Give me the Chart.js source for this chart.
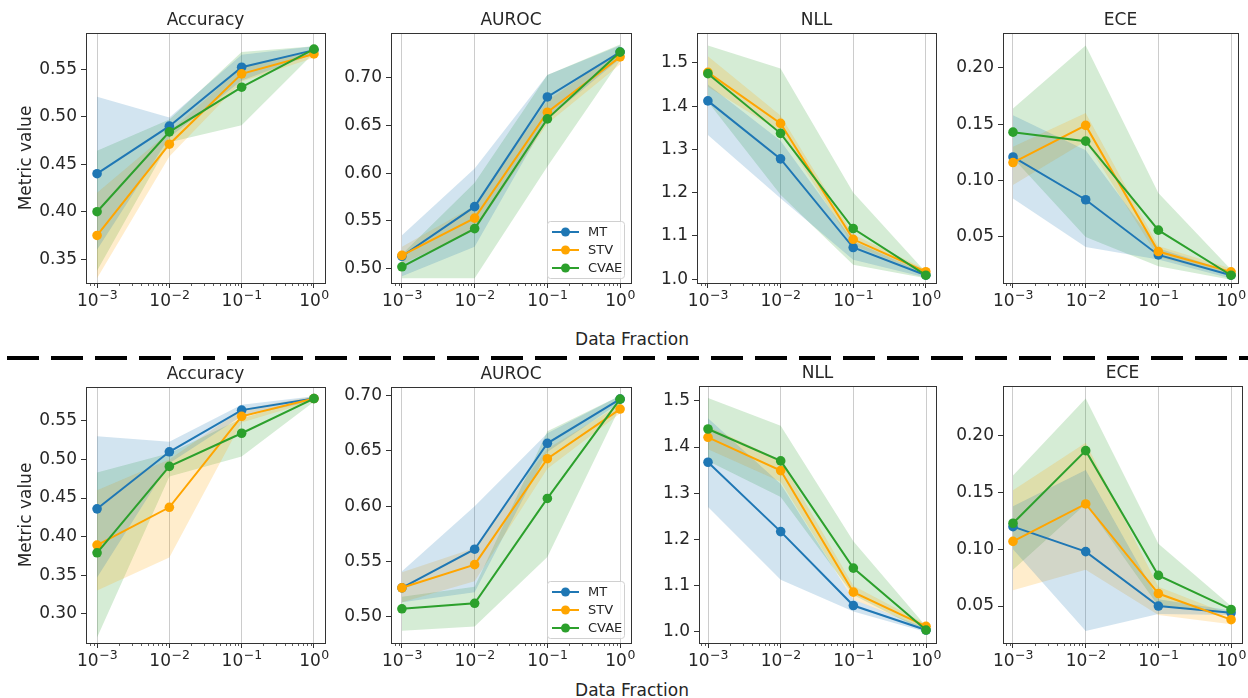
<!DOCTYPE html>
<html>
<head>
<meta charset="utf-8">
<script src="https://cdn.jsdelivr.net/npm/chart.js@4.4.0/dist/chart.umd.min.js"></script>
<style>
  body { margin: 0; background: #fff; width: 1248px; height: 698px; position: relative; overflow: hidden; font-family: "DejaVu Sans", sans-serif; }
  canvas { position: absolute; }
  .xlabel { position: absolute; transform: translateX(-50%); font-size: 17px; line-height: 20px; color: #262626; white-space: nowrap; }
  .sep { position: absolute; left: 7px; top: 356px; width: 1241px; height: 4px;
         background: repeating-linear-gradient(to right, #000 0 32px, transparent 32px 44px); }
</style>
</head>
<body>
<div class="xlabel" style="left:632px; top:329px;">Data Fraction</div>
<div class="sep"></div>
<div class="xlabel" style="left:632px; top:680px;">Data Fraction</div>
<script>
// x positions (data fraction) and their labels: base 10 with exponent
const fractions = [0.001, 0.01, 0.1, 1];
const xTickBase = '10';
const xTickExponents = ['−3', '−2', '−1', '0'];
const methods = ['MT', 'STV', 'CVAE'];
const methodColors = ['#1f77b4', '#ffa500', '#2ca02c'];
const methodFills = ['rgba(31,119,180,0.2)', 'rgba(255,165,0,0.2)', 'rgba(44,160,44,0.2)'];

// y ticks
const accTicksTop = [0.35, 0.40, 0.45, 0.50, 0.55];
const accTicksBot = [0.30, 0.35, 0.40, 0.45, 0.50, 0.55];
const aurocTicks = [0.50, 0.55, 0.60, 0.65, 0.70];
const nllTicks = [1.0, 1.1, 1.2, 1.3, 1.4, 1.5];
const eceTicks = [0.05, 0.10, 0.15, 0.20];

// top row, rows = MT, STV, CVAE
const topAccuracyMean = [[0.440, 0.490, 0.552, 0.570], [0.375, 0.471, 0.545, 0.566], [0.400, 0.484, 0.531, 0.571]];
const topAccuracyLow  = [[0.360, 0.478, 0.538, 0.566], [0.330, 0.458, 0.537, 0.562], [0.338, 0.473, 0.491, 0.567]];
const topAccuracyHigh = [[0.521, 0.499, 0.565, 0.574], [0.420, 0.484, 0.552, 0.569], [0.464, 0.497, 0.568, 0.574]];

const topAurocMean = [[0.513, 0.565, 0.680, 0.727], [0.514, 0.553, 0.664, 0.722], [0.502, 0.542, 0.657, 0.727]];
const topAurocLow  = [[0.492, 0.523, 0.657, 0.720], [0.505, 0.540, 0.652, 0.714], [0.490, 0.490, 0.607, 0.718]];
const topAurocHigh = [[0.535, 0.605, 0.703, 0.734], [0.523, 0.566, 0.676, 0.729], [0.515, 0.590, 0.703, 0.735]];

const topNllMean = [[1.412, 1.278, 1.073, 1.009], [1.478, 1.360, 1.092, 1.017], [1.475, 1.337, 1.117, 1.009]];
const topNllLow  = [[1.333, 1.187, 1.045, 1.004], [1.445, 1.340, 1.078, 1.011], [1.410, 1.195, 1.033, 1.002]];
const topNllHigh = [[1.450, 1.320, 1.088, 1.013], [1.515, 1.378, 1.103, 1.022], [1.540, 1.487, 1.200, 1.016]];

const topEceMean = [[0.121, 0.083, 0.034, 0.016], [0.116, 0.149, 0.037, 0.019], [0.143, 0.135, 0.056, 0.016]];
const topEceLow  = [[0.084, 0.041, 0.030, 0.013], [0.096, 0.135, 0.032, 0.016], [0.120, 0.050, 0.024, 0.012]];
const topEceHigh = [[0.158, 0.127, 0.040, 0.019], [0.130, 0.160, 0.042, 0.022], [0.164, 0.220, 0.089, 0.021]];

// bottom row
const botAccuracyMean = [[0.436, 0.510, 0.564, 0.579], [0.389, 0.438, 0.556, 0.579], [0.379, 0.491, 0.534, 0.579]];
const botAccuracyLow  = [[0.347, 0.495, 0.556, 0.576], [0.330, 0.373, 0.548, 0.576], [0.269, 0.478, 0.504, 0.575]];
const botAccuracyHigh = [[0.530, 0.523, 0.571, 0.582], [0.460, 0.500, 0.565, 0.582], [0.483, 0.508, 0.553, 0.582]];

const botAurocMean = [[0.526, 0.561, 0.657, 0.697], [0.526, 0.547, 0.643, 0.688], [0.507, 0.512, 0.607, 0.697]];
const botAurocLow  = [[0.513, 0.522, 0.649, 0.694], [0.513, 0.532, 0.634, 0.684], [0.487, 0.491, 0.554, 0.690]];
const botAurocHigh = [[0.541, 0.600, 0.666, 0.700], [0.540, 0.562, 0.652, 0.692], [0.518, 0.527, 0.668, 0.700]];

const botNllMean = [[1.367, 1.217, 1.057, 1.004], [1.421, 1.349, 1.086, 1.012], [1.439, 1.370, 1.138, 1.004]];
const botNllLow  = [[1.270, 1.113, 1.044, 1.000], [1.395, 1.325, 1.070, 1.006], [1.370, 1.292, 1.080, 1.000]];
const botNllHigh = [[1.462, 1.320, 1.070, 1.008], [1.445, 1.372, 1.100, 1.017], [1.506, 1.446, 1.196, 1.012]];

const botEceMean = [[0.120, 0.098, 0.050, 0.044], [0.107, 0.140, 0.061, 0.038], [0.123, 0.187, 0.077, 0.047]];
const botEceLow  = [[0.100, 0.028, 0.043, 0.042], [0.064, 0.082, 0.042, 0.034], [0.082, 0.140, 0.050, 0.043]];
const botEceHigh = [[0.138, 0.170, 0.056, 0.046], [0.152, 0.194, 0.067, 0.042], [0.165, 0.233, 0.105, 0.050]];

const TITLE_H = 28, AXIS_H = 40, PAD_R = 22;
const TEXT = '#262626', SPINE = '#333';

const panels = [
  { title: 'Accuracy', mean: topAccuracyMean, low: topAccuracyLow, high: topAccuracyHigh, yTicks: accTicksTop, dec: 2, yMin: 0.325, yMax: 0.588, xMin: -3.153, xMax: 0.153, left: 86, top: 33, w: 239, h: 250, yLabel: true },
  { title: 'AUROC', mean: topAurocMean, low: topAurocLow, high: topAurocHigh, yTicks: aurocTicks, dec: 2, yMin: 0.485, yMax: 0.747, xMin: -3.15, xMax: 0.15, left: 391, top: 33, w: 240, h: 250, legend: true },
  { title: 'NLL', mean: topNllMean, low: topNllLow, high: topNllHigh, yTicks: nllTicks, dec: 1, yMin: 0.991, yMax: 1.569, xMin: -3.15, xMax: 0.14, left: 697, top: 33, w: 239, h: 250 },
  { title: 'ECE', mean: topEceMean, low: topEceLow, high: topEceHigh, yTicks: eceTicks, dec: 2, yMin: 0.0091, yMax: 0.231, xMin: -3.1375, xMax: 0.096, left: 1003, top: 33, w: 235, h: 250 },
  { title: 'Accuracy', mean: botAccuracyMean, low: botAccuracyLow, high: botAccuracyHigh, yTicks: accTicksBot, dec: 2, yMin: 0.262, yMax: 0.594, xMin: -3.153, xMax: 0.153, left: 86, top: 387, w: 239, h: 256, yLabel: true },
  { title: 'AUROC', mean: botAurocMean, low: botAurocLow, high: botAurocHigh, yTicks: aurocTicks, dec: 2, yMin: 0.476, yMax: 0.708, xMin: -3.15, xMax: 0.15, left: 391, top: 387, w: 240, h: 256, legend: true },
  { title: 'NLL', mean: botNllMean, low: botNllLow, high: botNllHigh, yTicks: nllTicks, dec: 1, yMin: 0.976, yMax: 1.532, xMin: -3.124, xMax: 0.137, left: 699, top: 386, w: 237, h: 257 },
  { title: 'ECE', mean: botEceMean, low: botEceLow, high: botEceHigh, yTicks: eceTicks, dec: 2, yMin: 0.0174, yMax: 0.244, xMin: -3.1375, xMax: 0.15, left: 1003, top: 386, w: 239, h: 257 }
];

function points(values) {
  return fractions.map((x, i) => ({ x: x, y: values[i] }));
}

function buildDatasets(p) {
  var ds = [];
  methods.forEach((name, m) => {
    ds.push({
      label: name, data: points(p.mean[m]), order: -m,
      borderColor: methodColors[m], backgroundColor: methodColors[m], borderWidth: 2,
      pointRadius: 4.8, pointHoverRadius: 4.8, pointBorderWidth: 0, fill: false
    });
  });
  methods.forEach((name, m) => {
    ds.push({ label: name + ' low', data: points(p.low[m]), order: 1,
      borderWidth: 0, borderColor: 'transparent', pointRadius: 0, fill: false });
    ds.push({ label: name + ' high', data: points(p.high[m]), order: 1,
      borderWidth: 0, borderColor: 'transparent', pointRadius: 0, fill: '-1', backgroundColor: methodFills[m] });
  });
  return ds;
}

// box spines, minor log ticks and 10^k labels, drawn like matplotlib
const framePlugin = {
  id: 'frame',
  afterDatasetsDraw: function (chart) {
    const ctx = chart.ctx, a = chart.chartArea, x = chart.scales.x;
    ctx.save();
    ctx.strokeStyle = SPINE;
    ctx.lineWidth = 0.8;
    for (let e = -4; e <= 0; e++) {
      for (let k = 2; k <= 9; k++) {
        const v = k * Math.pow(10, e);
        if (v < x.min || v > x.max) continue;
        const px = Math.round(x.getPixelForValue(v)) + 0.5;
        ctx.beginPath();
        ctx.moveTo(px, a.bottom);
        ctx.lineTo(px, a.bottom + 3);
        ctx.stroke();
      }
    }
    ctx.lineWidth = 1;
    ctx.strokeRect(Math.round(a.left) + 0.5, Math.round(a.top) + 0.5, Math.round(a.right - a.left), Math.round(a.bottom - a.top));

    ctx.fillStyle = TEXT;
    ctx.textBaseline = 'alphabetic';
    ctx.textAlign = 'left';
    fractions.forEach((v, i) => {
      const px = x.getPixelForValue(v);
      ctx.font = '17px "DejaVu Sans"';
      const wb = ctx.measureText(xTickBase).width;
      ctx.font = '12.5px "DejaVu Sans"';
      const we = ctx.measureText(xTickExponents[i]).width;
      const x0 = px - (wb + we) / 2;
      ctx.font = '17px "DejaVu Sans"';
      ctx.fillText(xTickBase, x0, a.bottom + 23);
      ctx.font = '12.5px "DejaVu Sans"';
      ctx.fillText(xTickExponents[i], x0 + wb + 0.5, a.bottom + 16);
    });
    ctx.restore();
  }
};

const legendPlugin = {
  id: 'boxLegend',
  afterDraw: function (chart) {
    const ctx = chart.ctx, a = chart.chartArea;
    const w = 77, h = 57;
    const x0 = Math.round(a.right - 7 - w), y0 = Math.round(a.bottom - 5 - h);
    ctx.save();
    ctx.fillStyle = 'rgba(255,255,255,0.8)';
    ctx.strokeStyle = '#d0d0d0';
    ctx.lineWidth = 1;
    ctx.beginPath();
    if (ctx.roundRect) ctx.roundRect(x0 + 0.5, y0 + 0.5, w, h, 3); else ctx.rect(x0 + 0.5, y0 + 0.5, w, h);
    ctx.fill();
    ctx.stroke();
    methods.forEach((name, m) => {
      const yy = y0 + 11 + m * 18;
      ctx.strokeStyle = methodColors[m];
      ctx.lineWidth = 2;
      ctx.beginPath();
      ctx.moveTo(x0 + 5, yy);
      ctx.lineTo(x0 + 32, yy);
      ctx.stroke();
      ctx.fillStyle = methodColors[m];
      ctx.beginPath();
      ctx.arc(x0 + 18.5, yy, 4.5, 0, Math.PI * 2);
      ctx.fill();
      ctx.fillStyle = TEXT;
      ctx.font = '13px "DejaVu Sans"';
      ctx.textBaseline = 'middle';
      ctx.fillText(name, x0 + 41, yy + 1);
    });
    ctx.restore();
  }
};

Chart.defaults.font.family = '"DejaVu Sans", sans-serif';
Chart.defaults.color = TEXT;

panels.forEach(function (p) {
  const axisW = p.yLabel ? 86 : 60;
  const cw = axisW + p.w + PAD_R, ch = TITLE_H + p.h + AXIS_H;
  const cv = document.createElement('canvas');
  cv.width = cw;
  cv.height = ch;
  cv.style.left = (p.left - axisW) + 'px';
  cv.style.top = (p.top - TITLE_H) + 'px';
  cv.style.width = cw + 'px';
  cv.style.height = ch + 'px';
  document.body.appendChild(cv);

  const extra = [framePlugin];
  if (p.legend) extra.push(legendPlugin);

  new Chart(cv, {
    type: 'line',
    data: { datasets: buildDatasets(p) },
    options: {
      responsive: false,
      animation: false,
      devicePixelRatio: 1,
      layout: { padding: { left: 0, top: 0, right: PAD_R, bottom: 0 } },
      plugins: {
        legend: { display: false },
        tooltip: { enabled: false },
        title: { display: true, text: p.title, fullSize: false, color: TEXT,
                 font: { size: 17, weight: 'normal', lineHeight: 1 }, padding: { top: 7, bottom: 4 } }
      },
      scales: {
        x: {
          type: 'logarithmic',
          min: Math.pow(10, p.xMin),
          max: Math.pow(10, p.xMax),
          afterBuildTicks: function (s) { s.ticks = fractions.map(v => ({ value: v })); },
          afterFit: function (s) { s.height = AXIS_H; },
          border: { display: false },
          grid: { color: '#cccccc', lineWidth: 1, tickColor: SPINE, tickLength: 5, drawTicks: true },
          ticks: { display: false, autoSkip: false, maxRotation: 0 }
        },
        y: {
          min: p.yMin,
          max: p.yMax,
          afterBuildTicks: function (s) { s.ticks = p.yTicks.map(v => ({ value: v })); },
          afterFit: function (s) { s.width = axisW; },
          border: { display: false },
          grid: { drawOnChartArea: false, tickColor: SPINE, tickLength: 5 },
          ticks: { padding: 4, color: TEXT, font: { size: 17 }, callback: function (v) { return Number(v).toFixed(p.dec); } },
          title: { display: !!p.yLabel, text: 'Metric value', color: TEXT, font: { size: 17 }, padding: { top: 16, bottom: 0 } }
        }
      }
    },
    plugins: extra
  });
});
</script>
</body>
</html>
